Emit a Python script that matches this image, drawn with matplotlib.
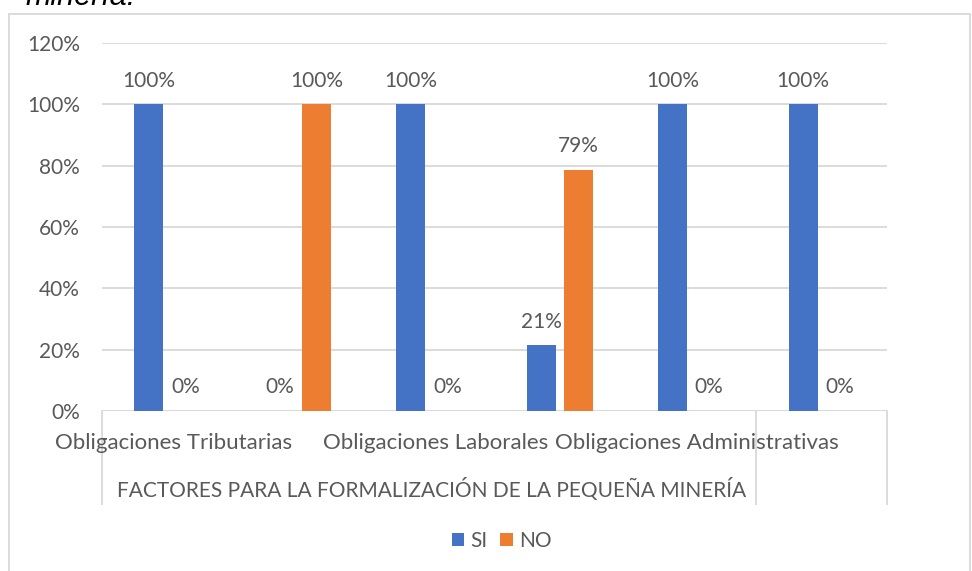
import matplotlib.pyplot as plt
import matplotlib.transforms as mtransforms
from matplotlib.patches import Rectangle
import numpy as np

plt.rcParams['font.family'] = ['Lato', 'DejaVu Sans']

# data
categories = ["Obligaciones Tributarias", "", "Obligaciones Laborales", "",
              "Obligaciones Administrativas", ""]
group_label = "FACTORES PARA LA FORMALIZACIÓN DE LA PEQUEÑA MINERÍA"
si = [100, 0, 100, 21.4, 100, 100]
no = [0, 100, 0, 78.6, 0, 0]
series_names = ["SI", "NO"]
yticks = [0, 20, 40, 60, 80, 100, 120]

blue = '#4472C4'
orange = '#ED7D31'
txt = '#595959'
grid = '#D9D9D9'

fig = plt.figure(figsize=(9.72, 5.71), dpi=100)
ax = fig.add_axes([102/972, 1-411/571, 785/972, 368/571])

x = np.arange(len(categories))
w = 0.222
off = 0.141
b1 = ax.bar(x - off, si, w, color=blue, label=series_names[0], zorder=3)
b2 = ax.bar(x + off, no, w, color=orange, label=series_names[1], zorder=3)

for bars, vals in ((b1, si), (b2, no)):
    for r, v in zip(bars, vals):
        ax.annotate(f"{v:.0f}%", (r.get_x() + r.get_width()/2, v),
                    xytext=(0, 17), textcoords='offset points',
                    ha='center', va='center', fontsize=15, color=txt)

ax.set_xlim(-0.5, len(categories) - 0.5)
ax.set_ylim(0, 120)
ax.set_yticks(yticks)
ax.set_yticklabels([f"{t}%" for t in yticks], fontsize=15, color=txt)
ax.tick_params(axis='y', length=0, pad=16)
ax.set_xticks([])
ax.grid(axis='y', color=grid, linewidth=1.3, zorder=0)
for s in ax.spines.values():
    s.set_visible(False)
ax.axhline(0, color=grid, linewidth=1.3, zorder=2)

# category axis: labels and separators
tr = mtransforms.blended_transform_factory(ax.transData, ax.transAxes)
for i, c in enumerate(categories):
    if c:
        ax.text(i + 0.05, -0.087, c, transform=tr, ha='center', va='center',
                fontsize=16, color=txt)
ax.text(2.02, -0.212, group_label, transform=tr, ha='center', va='center',
        fontsize=15, color=txt)
for xs in (-0.5, 4.5, 5.5):
    ax.plot([xs, xs], [0, -0.253], transform=tr, color=grid,
            linewidth=1.3, clip_on=False)

# legend
fig.legend(handles=[b1, b2], loc='center', bbox_to_anchor=(0.516, 0.0525),
           ncol=2, frameon=False, fontsize=15, labelcolor=txt,
           handlelength=0.6, handleheight=0.6, handletextpad=0.3,
           columnspacing=0.6)

# chart border
fig.patches.append(Rectangle((9/972, -0.1), 961/972, 1.1 - 14/571,
                             transform=fig.transFigure, fill=False,
                             edgecolor=grid, linewidth=1.3))

# cut-off caption above the chart
fig.text(25/972, 1 - 5/571, "minería.", fontsize=22, style='italic',
         family=['Liberation Sans', 'DejaVu Sans'], color='black',
         ha='left', va='baseline')

fig.savefig('out.png', dpi=100)
